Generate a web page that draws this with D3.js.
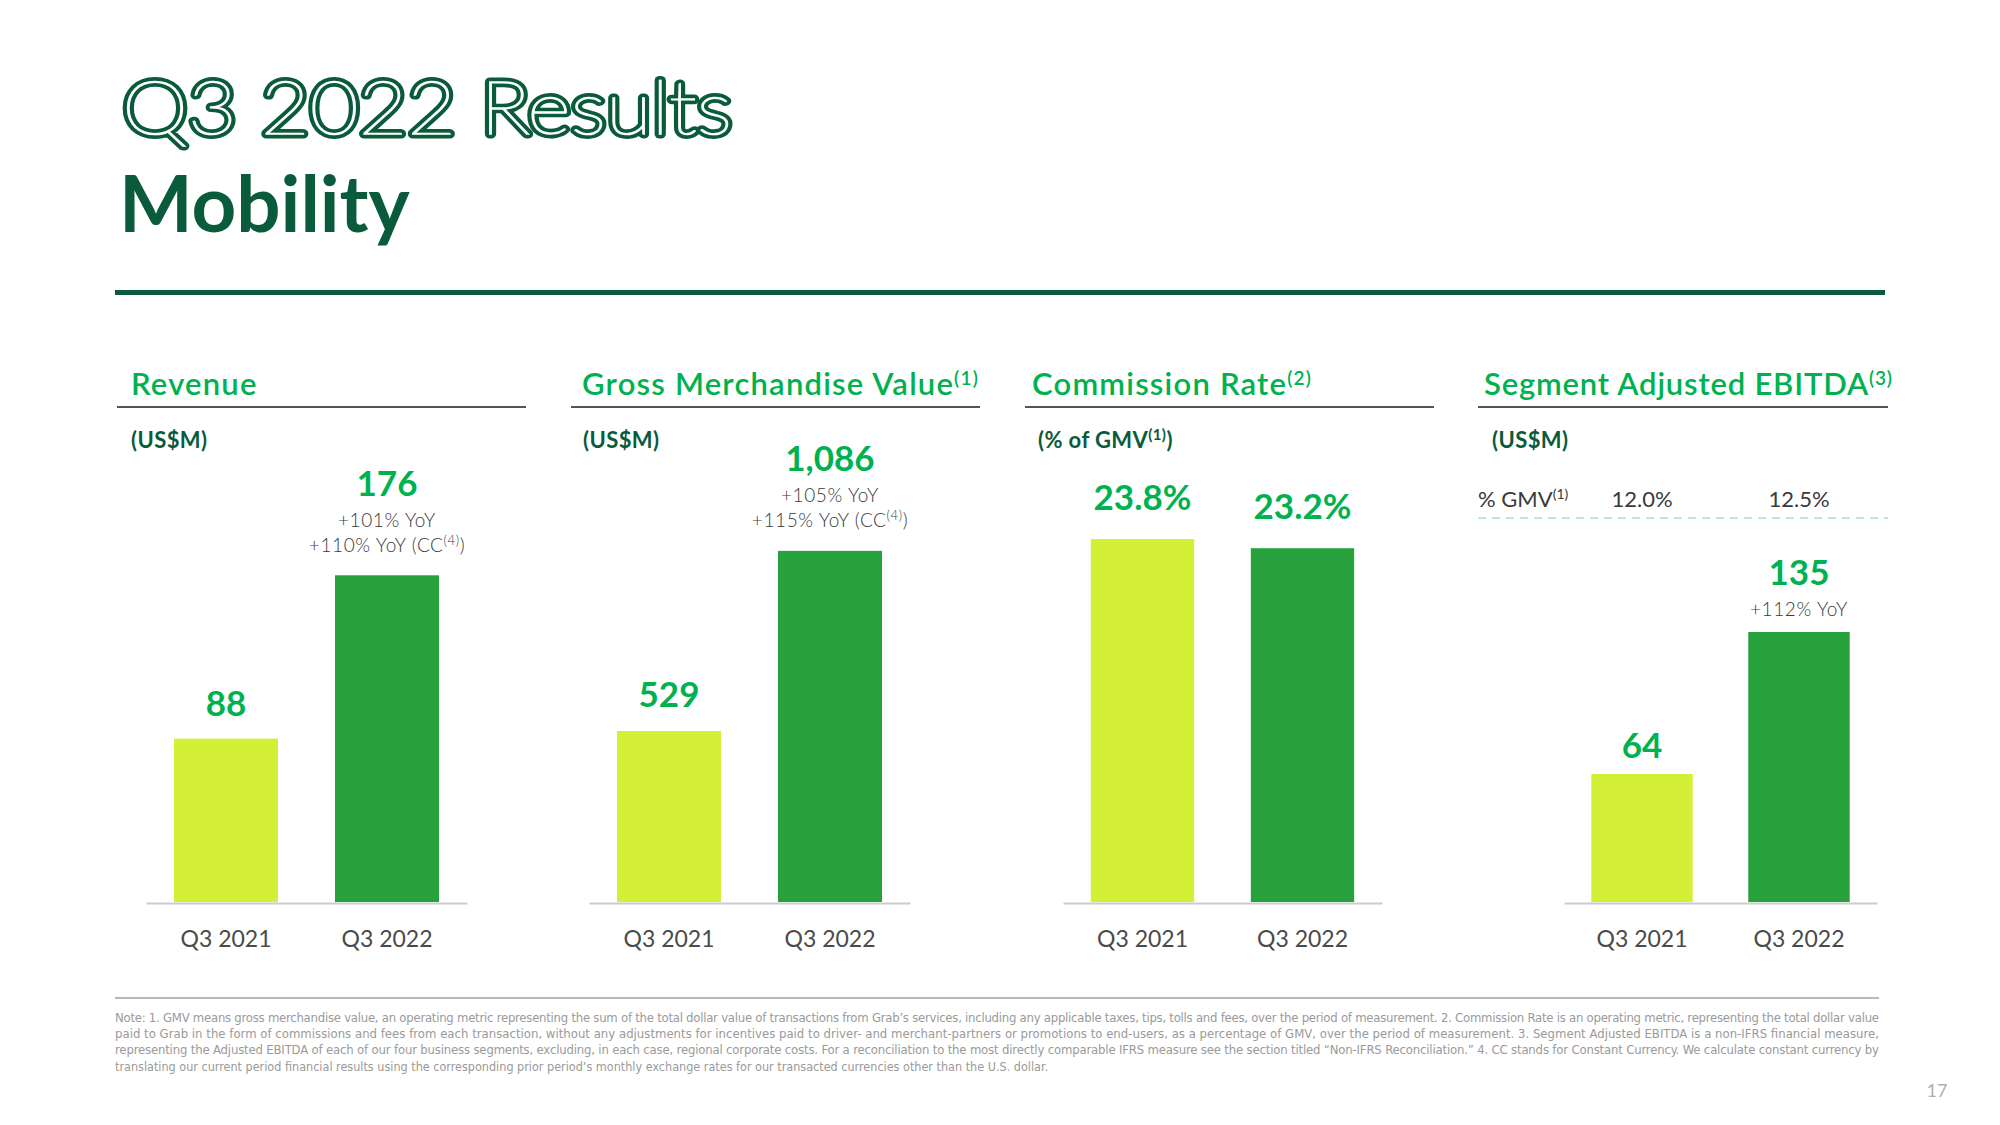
<!DOCTYPE html>
<html><head><meta charset="utf-8">
<script src="https://cdn.jsdelivr.net/npm/d3@7"></script>
<style>html,body{margin:0;padding:0;background:#fff;} svg{display:block;}</style>
</head><body>
<svg id="chart" width="2000" height="1125"></svg>
<script>
// ---------- data ----------
const categories = ["Q3 2021", "Q3 2022"];
const revenueValues = [88, 176];
const gmvValues = [529, 1086];
const commissionValues = [23.8, 23.2];
const ebitdaValues = [64, 135];
const revenueLabels = ["88", "176"];
const gmvLabels = ["529", "1,086"];
const commissionLabels = ["23.8%", "23.2%"];
const ebitdaLabels = ["64", "135"];
const revenueGrowth = [[], ["+101% YoY", "+110% YoY (CC{(4)})"]];
const gmvGrowth = [[], ["+105% YoY", "+115% YoY (CC{(4)})"]];
const commissionGrowth = [[], []];
const ebitdaGrowth = [[], ["+112% YoY"]];
const ebitdaMarginLabel = "% GMV{(1)}";
const ebitdaMargin = ["12.0%", "12.5%"];
const panelTitles = ["Revenue", "Gross Merchandise Value{(1)}", "Commission Rate{(2)}", "Segment Adjusted EBITDA{(3)}"];
const panelUnits = ["(US$M)", "(US$M)", "(% of GMV{(1)})", "(US$M)"];
const footnoteLines = [
  "Note: 1. GMV means gross merchandise value, an operating metric representing the sum of the total dollar value of transactions from Grab\u2019s services, including any applicable taxes, tips, tolls and fees, over the period of measurement. 2. Commission Rate is an operating metric, representing the total dollar value",
  "paid to Grab in the form of commissions and fees from each transaction, without any adjustments for incentives paid to driver- and merchant-partners or promotions to end-users, as a percentage of GMV, over the period of measurement. 3. Segment Adjusted EBITDA is a non-IFRS financial measure,",
  "representing the Adjusted EBITDA of each of our four business segments, excluding, in each case, regional corporate costs. For a reconciliation to the most directly comparable IFRS measure see the section titled  \u201cNon-IFRS Reconciliation.\u201d 4. CC stands for Constant Currency. We calculate constant currency by",
  "translating our current period financial results using the corresponding prior period\u2019s monthly exchange rates for our transacted currencies other than the U.S. dollar."
];
const pageNumber = "17";

// ---------- layout ----------
const C = {
  dark: "#0a5a3c", green: "#00b14f", lime: "#d4f036", bar: "#26a13b",
  grey: "#3a3a3a", axis: "#cccccc", rule: "#555555"
};
const baseY = 902;
const plotH = 452;
const panels = [
  {values: revenueValues, labels: revenueLabels, growth: revenueGrowth, max: 243.5, head: [117, 526], titleX: 131, unitX: 131, axis: [146, 467], gap: 23, ls: 1.2},
  {values: gmvValues, labels: gmvLabels, growth: gmvGrowth, max: 1398, head: [571, 980], titleX: 582, unitX: 583, axis: [589, 910], gap: 24, ls: 1.2},
  {values: commissionValues, labels: commissionLabels, growth: commissionGrowth, max: 29.64, head: [1025, 1434], titleX: 1032, unitX: 1038, axis: [1063, 1382], gap: 29, ls: 1.2},
  {values: ebitdaValues, labels: ebitdaLabels, growth: ebitdaGrowth, max: 226, head: [1478, 1888], titleX: 1484, unitX: 1492, axis: [1564, 1877], gap: 16, ls: 0.8}
];

const svg = d3.select("#chart");
const FONT = "Lato, 'Open Sans', sans-serif";

function rich(sel, str, size, supSize, shift) {
  const parts = str.split(/(\{[^}]*\})/).filter(p => p.length);
  let raised = false;
  parts.forEach(p => {
    if (p.startsWith("{")) {
      sel.append("tspan").attr("font-size", supSize).attr("dy", -shift).text(p.slice(1, -1));
      raised = true;
    } else {
      const t = sel.append("tspan").attr("font-size", size).text(p);
      if (raised) { t.attr("dy", shift); raised = false; }
    }
  });
  return sel;
}

// ---------- heading ----------
const titleText = "Q3 2022 Results";
const tg = svg.append("g").attr("font-family", FONT).attr("font-size", 74).attr("font-weight", 200);
tg.append("text").attr("x", 122).attr("y", 134).attr("textLength", 610).attr("lengthAdjust", "spacingAndGlyphs")
  .attr("fill", C.dark).attr("stroke", C.dark).attr("stroke-width", 9).attr("stroke-linejoin", "round")
  .text(titleText);
tg.append("text").attr("x", 122).attr("y", 134).attr("textLength", 610).attr("lengthAdjust", "spacingAndGlyphs")
  .attr("fill", "#fff").attr("stroke", "#fff").attr("stroke-width", 1.6)
  .text(titleText);
svg.append("text").attr("x", 119).attr("y", 232).attr("font-family", FONT).attr("font-size", 78)
  .attr("font-weight", 700).attr("fill", C.dark).text("Mobility");
svg.append("rect").attr("x", 115).attr("y", 290).attr("width", 1770).attr("height", 5).attr("fill", C.dark);

// ---------- panels ----------
panels.forEach((p, i) => {
  const g = svg.append("g").attr("font-family", FONT);
  rich(g.append("text").attr("x", p.titleX).attr("y", 395).attr("fill", C.green).attr("font-weight", 600)
      .attr("letter-spacing", p.ls),
    panelTitles[i], 31, 19, 10);
  g.append("line").attr("x1", p.head[0]).attr("x2", p.head[1]).attr("y1", 407).attr("y2", 407)
    .attr("stroke", C.rule).attr("stroke-width", 2);
  rich(g.append("text").attr("x", p.unitX).attr("y", 448).attr("fill", C.dark).attr("font-weight", 700)
      .attr("letter-spacing", 0.4),
    panelUnits[i], 22, 15, 8);

  const x = d3.scaleBand().domain(categories).range(p.axis).paddingInner(0.354).paddingOuter(0.174);
  const y = d3.scaleLinear().domain([0, p.max]).range([baseY, baseY - plotH]);

  g.selectAll("rect.bar").data(p.values).join("rect").attr("class", "bar")
    .attr("x", (d, j) => x(categories[j])).attr("width", x.bandwidth())
    .attr("y", d => y(d)).attr("height", d => y(0) - y(d))
    .attr("fill", (d, j) => j === 0 ? C.lime : C.bar);

  const ax = g.append("g").attr("transform", `translate(0,${baseY + 1})`)
    .call(d3.axisBottom(x).tickSize(0).tickSizeOuter(0).tickPadding(28));
  ax.select(".domain").attr("stroke", C.axis).attr("stroke-width", 2);
  ax.selectAll("text").attr("font-family", FONT).attr("font-size", 23).attr("fill", "#4a4a4a");

  p.values.forEach((v, j) => {
    const cx = x(categories[j]) + x.bandwidth() / 2;
    const subs = p.growth[j];
    let yy = y(v) - p.gap;
    for (let k = subs.length - 1; k >= 0; k--) {
      rich(g.append("text").attr("x", cx).attr("y", yy).attr("text-anchor", "middle")
        .attr("fill", C.grey).attr("font-weight", 300).attr("letter-spacing", 0.6), subs[k], 19, 13, 7);
      yy -= (k === 0 ? 31 : 25);
    }
    g.append("text").attr("x", cx).attr("y", yy).attr("text-anchor", "middle")
      .attr("fill", C.green).attr("font-weight", 700).attr("font-size", 35).text(p.labels[j]);
  });

  if (i === 3) {
    rich(g.append("text").attr("x", 1478).attr("y", 507).attr("fill", C.grey).attr("font-weight", 400),
      ebitdaMarginLabel, 22, 14, 8);
    ebitdaMargin.forEach((m, j) => {
      g.append("text").attr("x", x(categories[j]) + x.bandwidth() / 2).attr("y", 507)
        .attr("text-anchor", "middle").attr("fill", C.grey).attr("font-size", 22).text(m);
    });
    g.append("line").attr("x1", 1478).attr("x2", 1888).attr("y1", 518).attr("y2", 518)
      .attr("stroke", "#bfe9cd").attr("stroke-width", 2).attr("stroke-dasharray", "8,6");
  }
});

// ---------- footnote ----------
svg.append("line").attr("x1", 115).attr("x2", 1879).attr("y1", 998).attr("y2", 998)
  .attr("stroke", "#a0a0a0").attr("stroke-width", 1.5);
const fg = svg.append("g").attr("font-family", "'Liberation Sans Narrow', 'DejaVu Sans Condensed', 'Open Sans', sans-serif")
  .attr("font-size", 13).attr("fill", "#9a9a9a");
footnoteLines.forEach((l, k) => {
  fg.append("text").attr("x", 115).attr("y", 1022 + k * 16.2)
    .attr("textLength", k < 3 ? 1764 : 933).attr("lengthAdjust", k < 3 ? "spacing" : "spacingAndGlyphs")
    .text(l);
});
svg.append("text").attr("x", 1937).attr("y", 1097).attr("text-anchor", "middle").attr("font-family", FONT)
  .attr("font-size", 18).attr("fill", "#b0b0b0").text(pageNumber);
</script>
</body></html>
